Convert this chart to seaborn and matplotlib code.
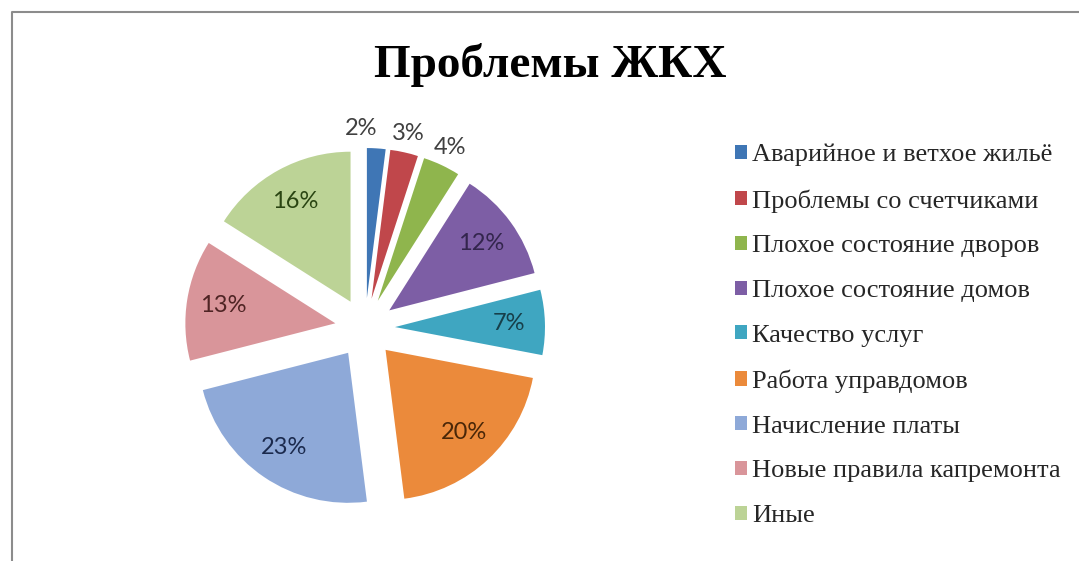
import matplotlib
matplotlib.use('Agg')
import matplotlib.pyplot as plt
import seaborn as sns
from matplotlib.lines import Line2D
from matplotlib.patches import Patch

categories = ['Аварийное и ветхое жильё', 'Проблемы со счетчиками', 'Плохое состояние дворов',
              'Плохое состояние домов', 'Качество услуг', 'Работа управдомов',
              'Начисление платы', 'Новые правила капремонта', 'Иные']
values = [2, 3, 4, 12, 7, 20, 23, 13, 16]
title = 'Проблемы ЖКХ'

colors = sns.color_palette(['#3F76B5', '#C0474B', '#8FB54D', '#7D5EA5', '#3FA6C1',
                            '#EB8A3B', '#8EA9D8', '#D9959A', '#BCD396'])
label_colors = ['#404040', '#404040', '#404040', '#33254d', '#173f4a', '#4a2708',
                '#1b2a4d', '#4f2424', '#2a4512']

sns.set_theme(style='white')
plt.rcParams['font.family'] = ['Lato', 'DejaVu Sans']

W, H = 1079, 561
fig = plt.figure(figsize=(W / 100, H / 100), dpi=100)
fig.patch.set_facecolor('white')

cx, cy, R, half = 365, 328, 150, 200
ax = fig.add_axes([(cx - half) / W, (H - cy - half) / H, 2 * half / W, 2 * half / H])
small = [v < 5 for v in values]
wedges, texts, autotexts = ax.pie(
    values, colors=colors, startangle=90, counterclock=False,
    explode=[0.2] * len(values),
    labels=[f'{v}%' if s else '' for v, s in zip(values, small)], labeldistance=1.13,
    autopct=lambda p: '' if p < 5 else f'{p:.0f}%', pctdistance=0.76,
    textprops=dict(fontsize=17), wedgeprops=dict(linewidth=0))
for t, c in zip(texts, label_colors):
    t.set_ha('center'); t.set_va('center'); t.set_color(c)
for t, c in zip(autotexts, label_colors):
    t.set_ha('center'); t.set_va('center'); t.set_color(c)
# keep the two smallest outside labels from touching
texts[0].set_ha('right')
ax.set_xlim(-half / R, half / R)
ax.set_ylim(-half / R, half / R)
ax.set_aspect('equal')
ax.axis('off')

fig.text(550 / W, 1 - 65 / H, title, ha='center', va='center', fontsize=34,
         fontweight='bold', family='Liberation Serif', color='black')

handles = [Patch(facecolor=c, edgecolor='none') for c in colors]
fig.legend(handles=handles, labels=categories, loc='upper left',
           bbox_to_anchor=(735 / W, 1 - 144 / H), frameon=False,
           prop={'family': 'Liberation Serif', 'size': 19},
           handlelength=0.45, handleheight=0.45, handletextpad=0.2,
           labelspacing=0.86, borderaxespad=0, borderpad=0)

x0, y0 = 12 / W, 1 - 12 / H
fig.add_artist(Line2D([x0, x0, 1.0], [0.0, y0, y0], color='#8c8c8c', linewidth=1.5,
                      transform=fig.transFigure))

fig.savefig('out.png', dpi=100)
